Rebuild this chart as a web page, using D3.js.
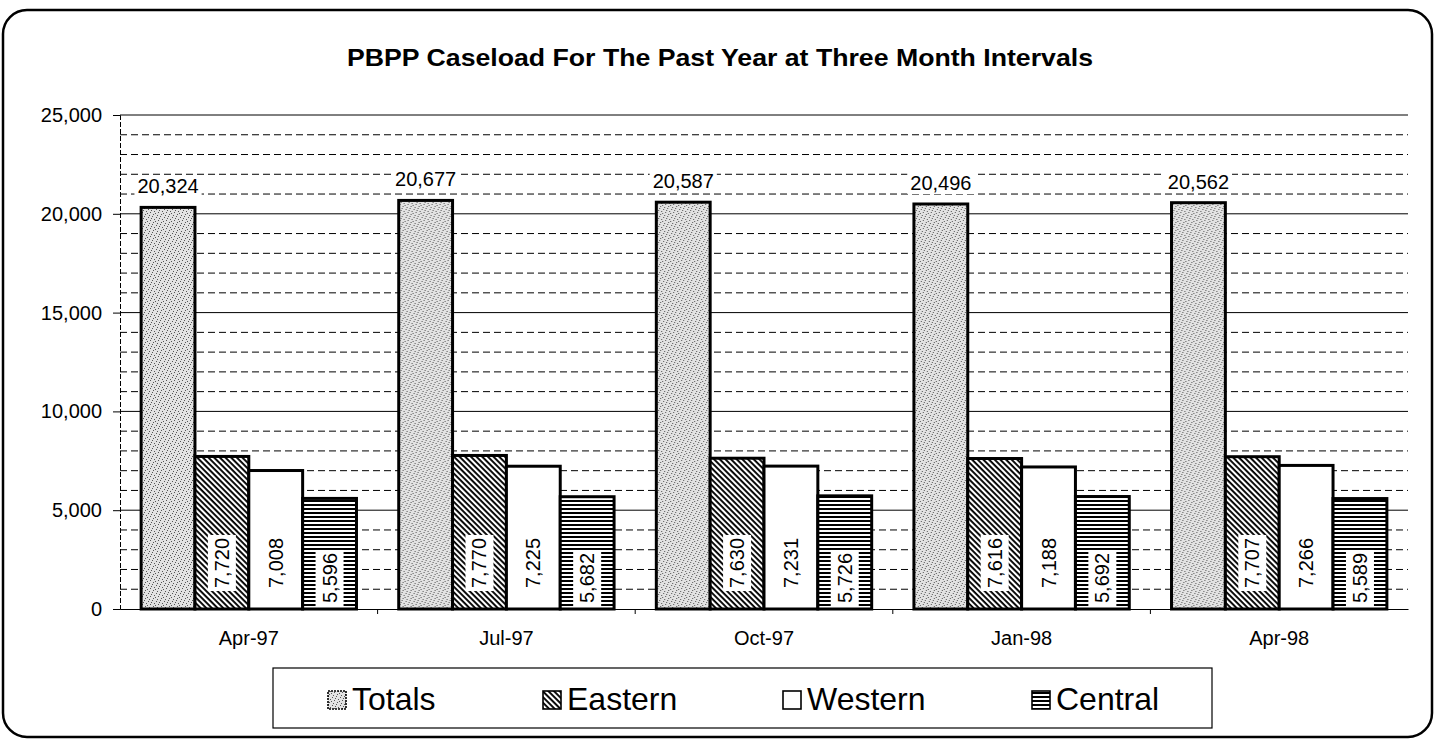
<!DOCTYPE html>
<html>
<head>
<meta charset="utf-8">
<script src="https://cdn.jsdelivr.net/npm/d3@7"></script>
<style>
  body { margin: 0; background: #fff; }
  svg { display: block; font-family: Arial, 'Liberation Sans', sans-serif; }
</style>
</head>
<body>
<svg id="chart" width="1437" height="740"></svg>
<script>
'use strict';

var TITLE = 'PBPP Caseload For The Past Year at Three Month Intervals';
var categories = ['Apr-97', 'Jul-97', 'Oct-97', 'Jan-98', 'Apr-98'];
var seriesNames = ['Totals', 'Eastern', 'Western', 'Central'];
var totals = [20324, 20677, 20587, 20496, 20562];
var eastern = [7720, 7770, 7630, 7616, 7707];
var western = [7008, 7225, 7231, 7188, 7266];
var central = [5596, 5682, 5726, 5692, 5589];
var yTicks = [0, 5000, 10000, 15000, 20000, 25000];

var seriesValues = [totals, eastern, western, central];
var fills = ['url(#pat-totals)', 'url(#pat-eastern)', '#fff', 'url(#pat-central)'];

var plot = {l: 120, r: 1408, t: 115, b: 609};

var svg = d3.select('#chart');
var defs = svg.append('defs');

// stipple for Totals
var pTot = defs.append('pattern')
    .attr('id', 'pat-totals')
    .attr('patternUnits', 'userSpaceOnUse')
    .attr('width', 8).attr('height', 8);
pTot.append('rect').attr('width', 8).attr('height', 8).attr('fill', '#e2e2e2');
[[0, 0], [4, 1], [2, 3], [6, 4], [1, 6], [5, 7], [3, 5], [7, 2]].forEach(function(d) {
    pTot.append('rect').attr('x', d[0]).attr('y', d[1])
        .attr('width', 1).attr('height', 1).attr('fill', '#555');
});

// diagonal hatching for Eastern (top-left to bottom-right)
var pEast = defs.append('pattern')
    .attr('id', 'pat-eastern')
    .attr('patternUnits', 'userSpaceOnUse')
    .attr('width', 4).attr('height', 4)
    .attr('patternTransform', 'rotate(45)');
pEast.append('rect').attr('width', 4).attr('height', 4).attr('fill', '#fff');
pEast.append('rect').attr('width', 4).attr('height', 1.9).attr('fill', '#000');

// horizontal lines for Central
var pCen = defs.append('pattern')
    .attr('id', 'pat-central')
    .attr('patternUnits', 'userSpaceOnUse')
    .attr('width', 4).attr('height', 4);
pCen.append('rect').attr('width', 4).attr('height', 4).attr('fill', '#fff');
pCen.append('rect').attr('width', 4).attr('height', 2).attr('fill', '#000');

// outer rounded frame
svg.append('rect')
    .attr('x', 3).attr('y', 10)
    .attr('width', 1429).attr('height', 727)
    .attr('rx', 24).attr('ry', 24)
    .attr('fill', 'none')
    .attr('stroke', '#000')
    .attr('stroke-width', 2.5);

svg.append('text')
    .attr('x', 720).attr('y', 66)
    .attr('text-anchor', 'middle')
    .attr('font-size', 24)
    .attr('font-weight', 'bold')
    .attr('textLength', 746)
    .attr('lengthAdjust', 'spacingAndGlyphs')
    .text(TITLE);

var x0 = d3.scaleBand().domain(categories).range([plot.l, plot.r]);
var pad = x0.bandwidth() * 0.082;
var x1 = d3.scaleBand().domain(seriesNames).range([pad, x0.bandwidth() - pad]);
var y = d3.scaleLinear().domain([0, 25000]).range([plot.b, plot.t]);

// gridlines: minor dashed every 1000, major solid every 5000
var minor = d3.range(1000, 25000, 1000).filter(function(v) { return v % 5000 !== 0; });
var grid = svg.append('g');
grid.selectAll('line.minor')
    .data(minor)
    .join('line')
    .attr('class', 'minor')
    .attr('x1', plot.l).attr('x2', plot.r)
    .attr('y1', function(d) { return y(d); })
    .attr('y2', function(d) { return y(d); })
    .attr('stroke', '#000')
    .attr('stroke-width', 1)
    .attr('stroke-dasharray', '7,4');
grid.selectAll('line.major')
    .data(yTicks.filter(function(v) { return v > 0; }))
    .join('line')
    .attr('class', 'major')
    .attr('x1', plot.l).attr('x2', plot.r)
    .attr('y1', function(d) { return y(d); })
    .attr('y2', function(d) { return y(d); })
    .attr('stroke', '#000')
    .attr('stroke-width', 1);

// y axis
var yAxis = d3.axisLeft(y)
    .tickValues(yTicks)
    .tickSize(7)
    .tickPadding(11)
    .tickFormat(d3.format(','));
var gy = svg.append('g')
    .attr('transform', 'translate(' + plot.l + ',0)')
    .call(yAxis);
gy.select('.domain').attr('stroke-dasharray', '5,2').attr('stroke', '#000');
gy.selectAll('.tick line').attr('stroke', '#000');
gy.selectAll('.tick text')
    .attr('font-size', 20)
    .attr('font-family', 'Arial, Liberation Sans, sans-serif')
    .attr('fill', '#000');

// x axis
var xAxis = d3.axisBottom(x0).tickSize(0).tickPadding(22);
var gx = svg.append('g')
    .attr('transform', 'translate(0,' + plot.b + ')')
    .call(xAxis);
gx.select('.domain').attr('stroke', '#000').attr('stroke-width', 1.2);
gx.selectAll('.tick text')
    .attr('font-size', 20)
    .attr('font-family', 'Arial, Liberation Sans, sans-serif')
    .attr('fill', '#000');
gx.selectAll('line.sep')
    .data(categories.slice(1))
    .join('line')
    .attr('class', 'sep')
    .attr('x1', function(d) { return x0(d); })
    .attr('x2', function(d) { return x0(d); })
    .attr('y1', 0).attr('y2', 5)
    .attr('stroke', '#000');

// bars
var groups = svg.append('g').selectAll('g.cat')
    .data(categories)
    .join('g')
    .attr('class', 'cat')
    .attr('transform', function(d) { return 'translate(' + x0(d) + ',0)'; });

groups.each(function(cat, ci) {
    var g = d3.select(this);
    seriesNames.forEach(function(s, si) {
        var v = seriesValues[si][ci];
        g.append('rect')
            .attr('x', x1(s))
            .attr('y', y(v))
            .attr('width', x1.bandwidth())
            .attr('height', y(0) - y(v))
            .attr('fill', fills[si])
            .attr('stroke', '#000')
            .attr('stroke-width', 3);
    });
});

// labels
groups.each(function(cat, ci) {
    var g = d3.select(this);
    var fmt = d3.format(',');
    seriesNames.forEach(function(s, si) {
        var v = seriesValues[si][ci];
        var cx = x1(s) + x1.bandwidth() / 2;
        if (si === 0) {
            var t = g.append('text')
                .attr('x', cx)
                .attr('y', y(v) - 14)
                .attr('text-anchor', 'middle')
                .attr('font-size', 20)
                .text(fmt(v));
            var bb = t.node().getBBox();
            g.insert('rect', function() { return t.node(); })
                .attr('x', bb.x - 3).attr('y', bb.y)
                .attr('width', bb.width + 6).attr('height', bb.height)
                .attr('fill', '#fff');
            return;
        }
        var cy = si === 3 ? y(0) - 31 : y(0) - 46;
        var lg = g.append('g').attr('transform', 'translate(' + cx + ',' + cy + ') rotate(-90)');
        var lt = lg.append('text')
            .attr('text-anchor', 'middle')
            .attr('dy', '0.35em')
            .attr('font-size', 20)
            .text(fmt(v));
        if (si !== 2) {
            var b = lt.node().getBBox();
            lg.insert('rect', 'text')
                .attr('x', b.x - 3).attr('y', b.y - 3)
                .attr('width', b.width + 6).attr('height', b.height + 6)
                .attr('fill', '#fff');
        }
    });
});

// legend
var legend = svg.append('g');
legend.append('rect')
    .attr('x', 273).attr('y', 668)
    .attr('width', 939).attr('height', 60)
    .attr('fill', '#fff')
    .attr('stroke', '#000')
    .attr('stroke-width', 1.2);

var legendX = [328, 543, 783, 1032];
seriesNames.forEach(function(s, i) {
    legend.append('rect')
        .attr('x', legendX[i]).attr('y', 691)
        .attr('width', 18).attr('height', 18)
        .attr('fill', fills[i])
        .attr('stroke', '#000')
        .attr('stroke-width', 1.6)
        .attr('stroke-dasharray', i === 0 ? '2,1' : null);
    legend.append('text')
        .attr('x', legendX[i] + 24)
        .attr('y', 710)
        .attr('font-size', 32)
        .text(s);
});
</script>
</body>
</html>
